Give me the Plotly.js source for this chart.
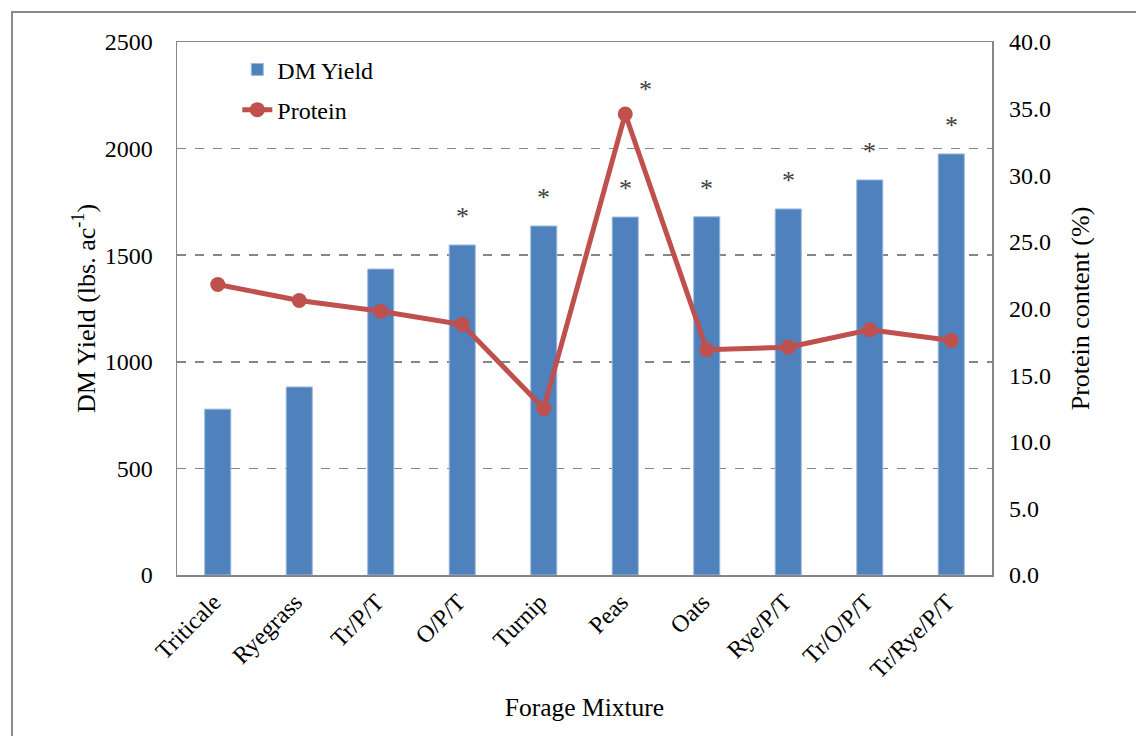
<!DOCTYPE html>
<html>
<head>
<meta charset="utf-8">
<script src="https://cdn.plot.ly/plotly-3.0.1.min.js"></script>
<style>
  html, body { margin: 0; padding: 0; overflow: hidden; background: #fff; }
  #frame { position: absolute; left: 11px; top: 11px; width: 1200px; height: 800px; border: 2px solid #8a8a8a; box-sizing: border-box; }
  #chart { position: absolute; left: 0; top: 0; width: 1136px; height: 736px; }
</style>
</head>
<body>
<div id="frame"></div>
<div id="chart"></div>
<script>
const categories = ["Triticale", "Ryegrass", "Tr/P/T", "O/P/T", "Turnip", "Peas", "Oats", "Rye/P/T", "Tr/O/P/T", "Tr/Rye/P/T"];
const dmYield = [778, 882, 1435, 1548, 1637, 1679, 1680, 1717, 1853, 1975];
const protein = [21.8, 20.6, 19.8, 18.8, 12.5, 34.6, 16.9, 17.1, 18.4, 17.6];
const yieldSig = [false, false, false, true, true, true, true, true, true, true];
const proteinSig = [false, false, false, false, false, true, false, false, false, false];

const FONT = "'Liberation Serif', 'Times New Roman', serif";
const GRAY = "#868686";

const annotations = [];
categories.forEach((c, i) => {
  if (yieldSig[i]) {
    annotations.push({ x: c, y: dmYield[i], xref: "x", yref: "y", text: "*", showarrow: false,
      yanchor: "bottom", yshift: 12, font: { family: FONT, size: 26, color: "#404040" } });
  }
  if (proteinSig[i]) {
    annotations.push({ x: c, y: protein[i], xref: "x", yref: "y2", text: "*", showarrow: false,
      yanchor: "bottom", yshift: 8, xshift: 20, font: { family: FONT, size: 26, color: "#404040" } });
  }
});

const traces = [
  { type: "bar", name: "DM Yield", x: categories, y: dmYield, yaxis: "y", legendgroup: "a",
    marker: { color: "#4F81BD", line: { color: "#9DB9DF", width: 1 } } },
  { type: "scatter", mode: "lines+markers", name: "Protein", x: categories, y: protein, yaxis: "y2", legendgroup: "b",
    line: { color: "#C0504D", width: 5 }, marker: { color: "#C0504D", size: 15 } }
];

const layout = {
  width: 1136, height: 736,
  margin: { l: 177, r: 144, t: 42, b: 161, autoexpand: false },
  paper_bgcolor: "rgba(0,0,0,0)", plot_bgcolor: "rgba(0,0,0,0)",
  font: { family: FONT, size: 24, color: "#000" },
  bargap: 0.68,
  showlegend: true,
  legend: { x: 0.074, y: 0.99, xanchor: "left", yanchor: "top", bgcolor: "rgba(0,0,0,0)",
    font: { family: FONT, size: 24 }, traceorder: "grouped", tracegroupgap: 6 },
  xaxis: { type: "category", range: [-0.5, 9.5], automargin: false, tickangle: -45, showline: true, linecolor: GRAY, linewidth: 1.5, mirror: true,
    showgrid: false, ticks: "", ticklabelstandoff: 2, ticklabelshift: -4,
    title: { text: "Forage Mixture", font: { family: FONT, size: 25.5 }, standoff: 16 } },
  yaxis: { range: [0, 2500], dtick: 500, automargin: false, showline: true, linecolor: GRAY, linewidth: 1.5, mirror: true,
    showgrid: true, gridcolor: GRAY, gridwidth: 1.5, griddash: "dash", zeroline: false, ticks: "",
    ticklabelstandoff: 18,
    title: { text: "DM Yield (lbs. ac<sup>-1</sup>)", font: { family: FONT, size: 26 }, standoff: 1 } },
  yaxis2: { range: [0, 40], dtick: 5, tickformat: ".1f", automargin: false, overlaying: "y", side: "right", showgrid: false,
    zeroline: false, showline: false, ticks: "", ticklabelstandoff: 16,
    title: { text: "Protein content (%)", font: { family: FONT, size: 26 }, standoff: 20 } },
  annotations: annotations
};

Plotly.newPlot("chart", traces, layout, { displayModeBar: false, staticPlot: true });
</script>
</body>
</html>
